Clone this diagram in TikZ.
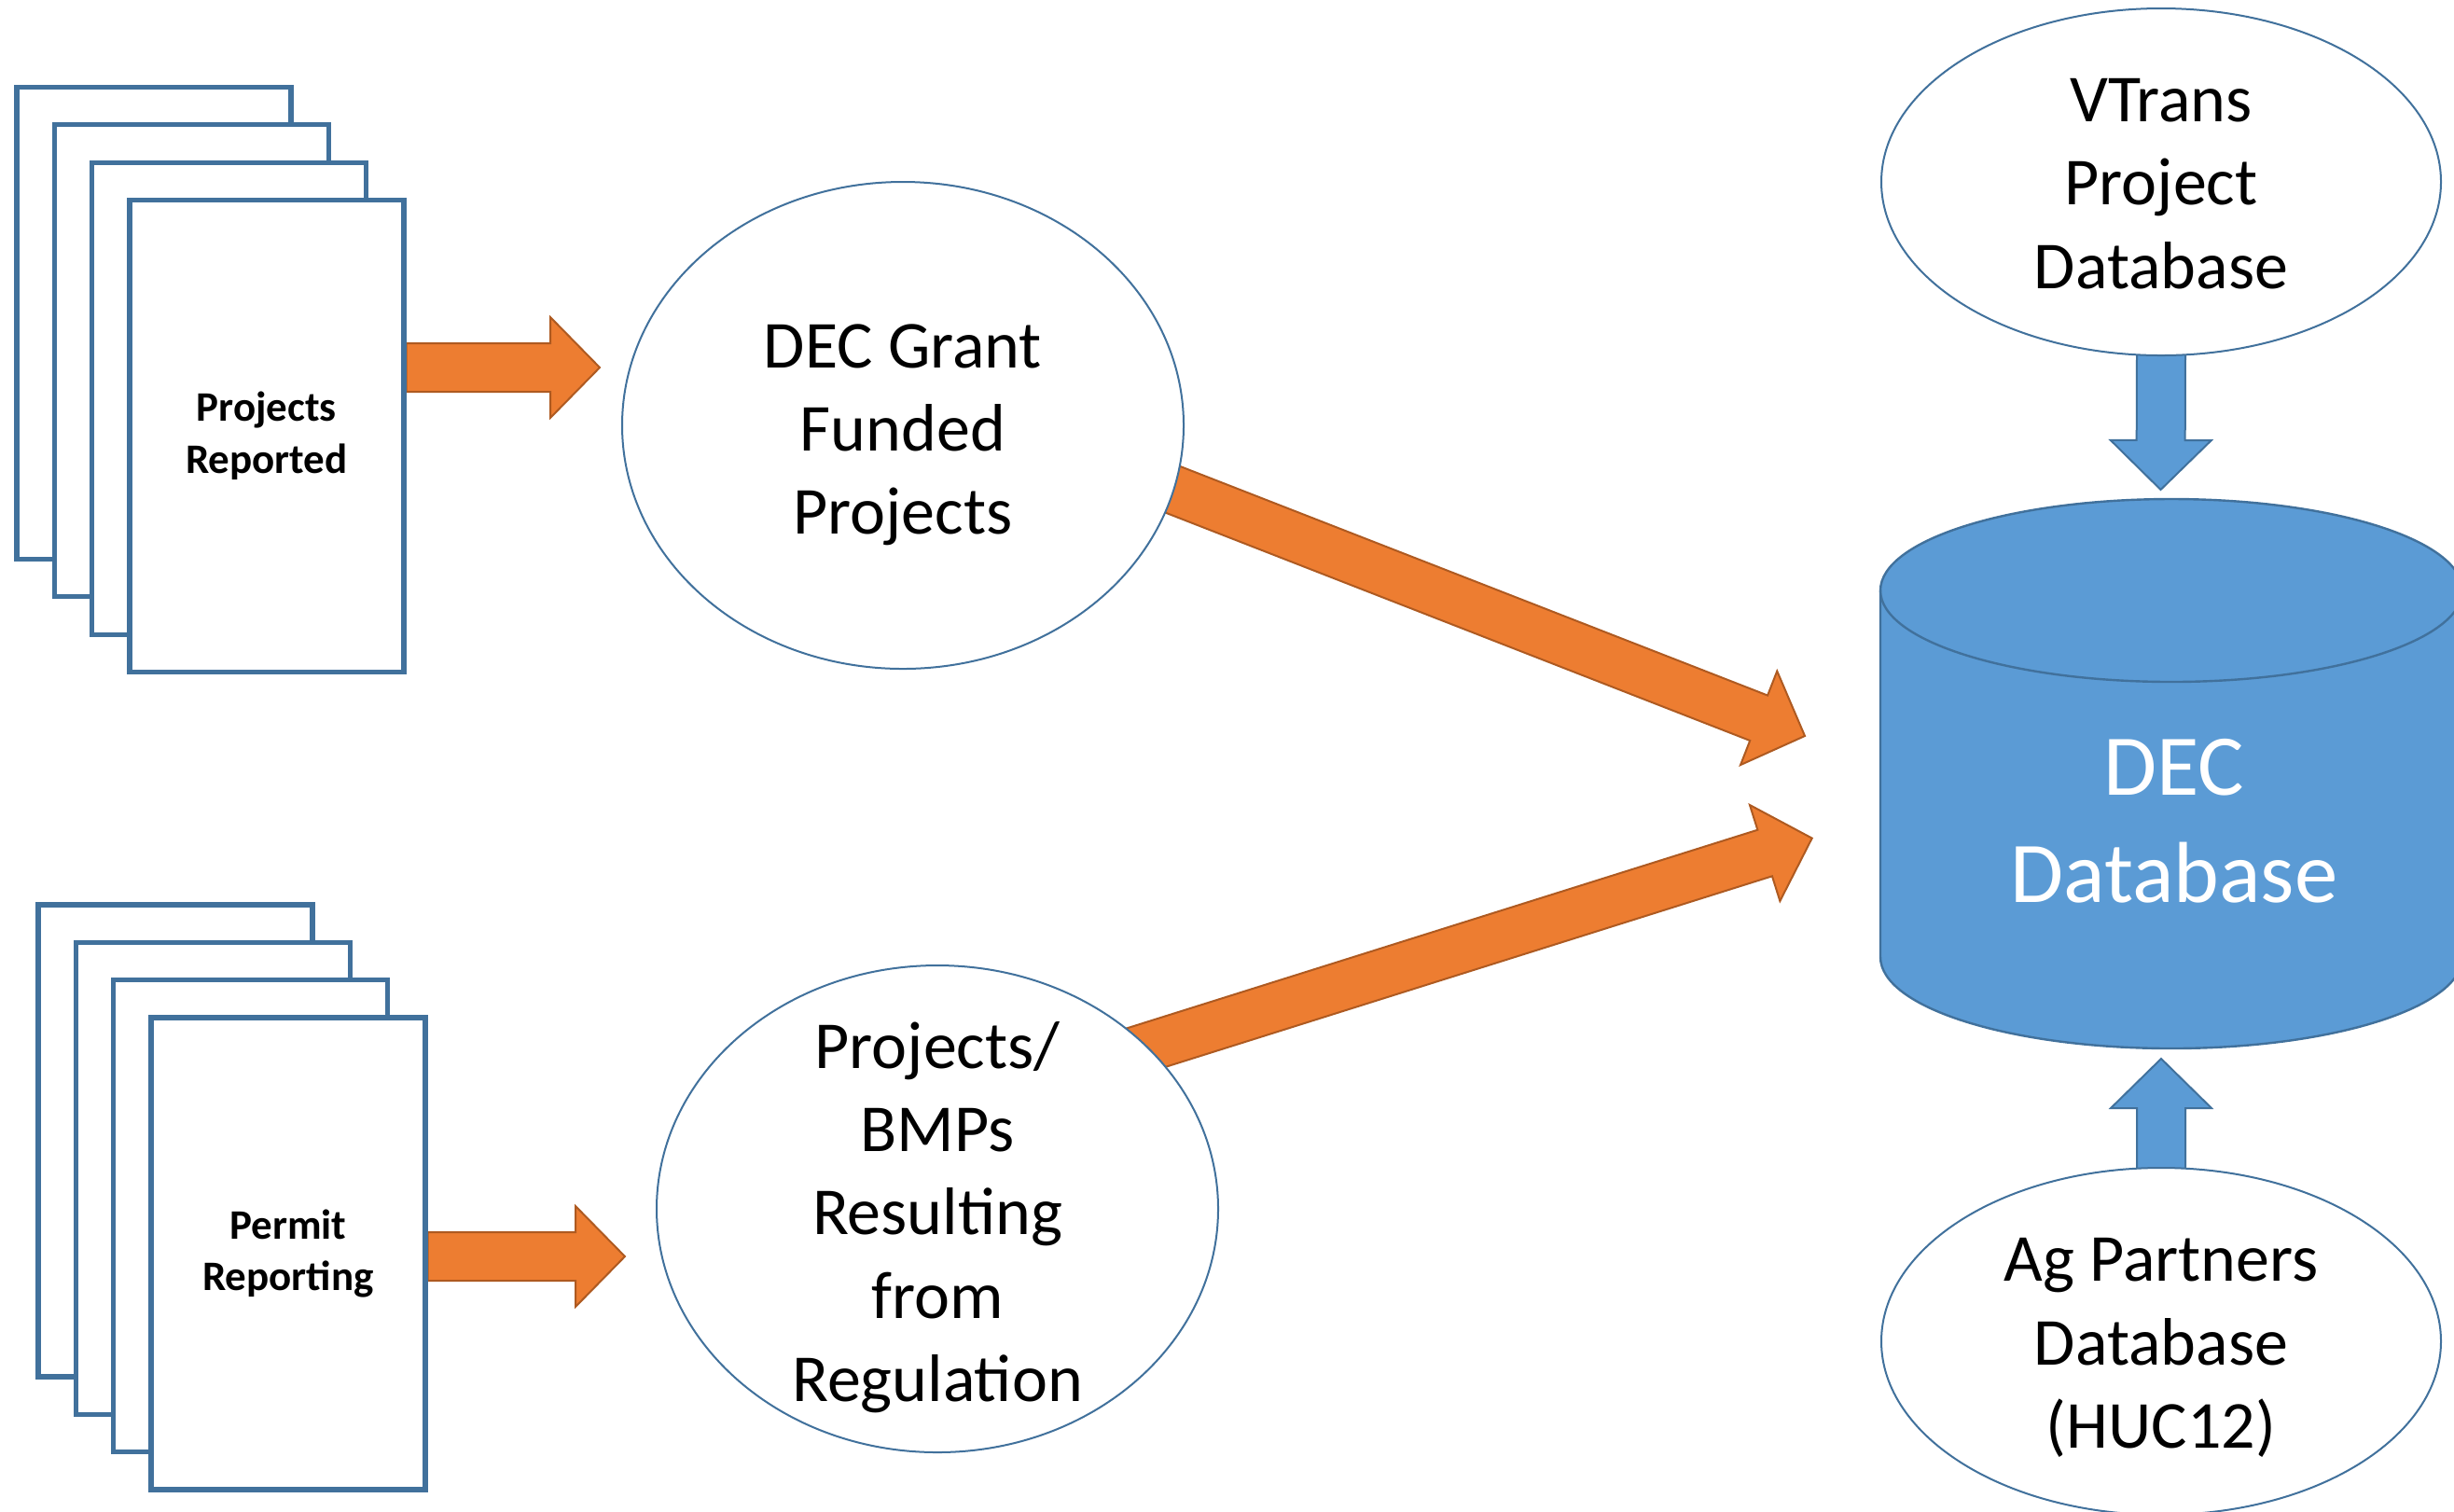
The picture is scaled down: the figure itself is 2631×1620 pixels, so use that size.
\documentclass[tikz,border=0pt]{standalone}
\usepackage{fontspec}
\setmainfont{Carlito}
\usepackage{xcolor}
\usetikzlibrary{calc,shapes.geometric,positioning,backgrounds}

\definecolor{docblue}{RGB}{65,113,156}
\definecolor{canblue}{RGB}{91,155,213}
\definecolor{feedorange}{RGB}{237,125,49}
\definecolor{feededge}{RGB}{174,90,33}

\tikzset{
  docpage/.style={draw=docblue, line width=1.3pt, fill=white, inner sep=0pt,
    minimum width=73.5pt, minimum height=126.5pt},
  doctext/.style={font=\bfseries\fontsize{11.25pt}{13.9pt}\selectfont, align=center},
  bubble/.style={ellipse, draw=docblue, line width=0.5pt, fill=white, inner sep=0pt,
    minimum width=150.5pt, minimum height=130.5pt},
  bubbletext/.style={font=\fontsize{18pt}{22.3pt}\selectfont, align=center, inner sep=0pt},
  cantext/.style={font=\fontsize{23.2pt}{28.8pt}\selectfont, align=center, text=white, inner sep=0pt},
  feedarrow/.style={fill=feedorange, draw=feededge, line width=0.5pt},
  canarrow/.style={fill=canblue, draw=docblue, line width=0.5pt},
}

% block arrow: #1 style, #2 tail, #3 tip
\newcommand{\fatarrow}[3]{%
  \coordinate (fah) at ($(#3)!13.25pt!(#2)$);
  \draw[#1] ($(#2)!6.5pt!90:(#3)$) -- ($(fah)!6.5pt!90:(#3)$) -- ($(fah)!13.5pt!90:(#3)$) -- (#3)
    -- ($(fah)!13.5pt!-90:(#3)$) -- ($(fah)!6.5pt!-90:(#3)$) -- ($(#2)!6.5pt!-90:(#3)$) -- cycle;
}

\begin{document}
\begin{tikzpicture}[x=0.25pt,y=0.25pt,yscale=-1,xscale=1]
  \useasboundingbox (0,0) rectangle (2631,1620);

  %Shape: Rectangle stack (projects reported)
  \foreach \k in {0,1,2} {
    \node[docpage] (rep\k) at (165+40.3*\k,346.5+40.3*\k) {};
  }
  \node[docpage,doctext] (rep3) at (285.9,467.4) {Projects\\Reported};

  %Shape: Rectangle stack (permit reporting)
  \foreach \k in {0,1,2} {
    \node[docpage] (per\k) at (188+40.3*\k,1223+40.3*\k) {};
  }
  \node[docpage,doctext] (per3) at (308.9,1343.9) {Permit\\Reporting};

  %Shape: Ellipse
  \node[bubble] (grant) at (968,456) {};
  % Text Node
  \node[bubbletext] (granttext) at (968,466) {DEC Grant\\Funded\\Projects};

  %Shape: Ellipse
  \node[bubble] (bmp) at (1005,1296) {};
  % Text Node
  \node[bubbletext] (bmptext) at (1005,1305) {Projects/\\BMPs\\Resulting\\from\\Regulation};

  %Shape: Ellipse
  \node[bubble,minimum width=150pt,minimum height=93pt] (vtrans) at (2317,195) {};
  % Text Node
  \node[bubbletext] (vtranstext) at (2317,197) {VTrans\\Project\\Database};

  %Shape: Ellipse
  \node[bubble,minimum width=150pt,minimum height=93pt] (ag) at (2317,1438) {};
  % Text Node
  \node[bubbletext] (agtext) at (2317,1445) {Ag Partners\\Database\\(HUC12)};

  %Shape: Can
  \draw[fill=canblue,draw=docblue,line width=0.6pt] (2016,633) -- (2016,1026) arc (180:0:312 and 98)
    -- (2640,633) arc (0:-180:312 and 98) -- cycle;
  \draw[docblue,line width=0.6pt] (2016,633) arc (180:0:312 and 98);
  % Text Node
  \node[cantext] (decdb) at (2331,880.5) {DEC\\Database};

  % arrow ends
  \coordinate (grantin) at (643,394);
  \coordinate (bmpin) at (670,1347);
  \coordinate (grantout) at (1240,518);
  \coordinate (bmpout) at (1198.6,1132.6);
  \coordinate (canleft1) at (1935,789);
  \coordinate (canleft2) at (1942.7,898.6);
  \coordinate (cantop) at (2316.5,525);
  \coordinate (canbot) at (2317,1135);
  \coordinate (vtout) at ($(vtrans.south)+(0,-8)$);
  \coordinate (agout) at ($(ag.north)+(0,8)$);
  \coordinate (repout) at (rep3.east |- grantin);
  \coordinate (perout) at (per3.east |- bmpin);

  \begin{scope}[on background layer]
    %Right Arrow
    \fatarrow{feedarrow}{repout}{grantin}
    \fatarrow{feedarrow}{perout}{bmpin}
    \fatarrow{feedarrow}{grantout}{canleft1}
    \fatarrow{feedarrow}{bmpout}{canleft2}
    %Down Arrow / Up Arrow
    \fatarrow{canarrow}{vtout}{cantop}
    \fatarrow{canarrow}{agout}{canbot}
  \end{scope}

\end{tikzpicture}
\end{document}
